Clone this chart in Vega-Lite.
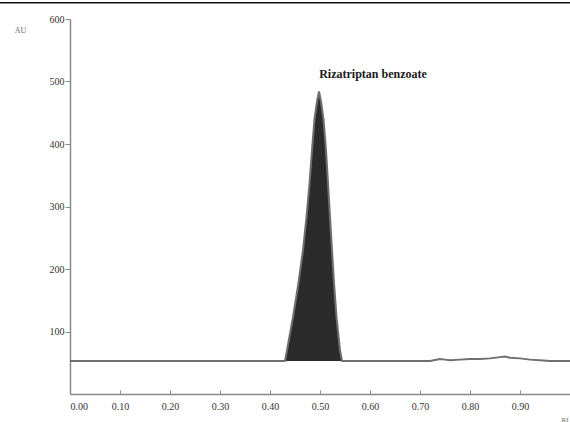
{
  "$schema": "https://vega.github.io/schema/vega-lite/v6.json",
  "width": 500,
  "height": 375,
  "autosize": {"type": "none"},
  "padding": {"left": 70, "top": 19, "right": 0, "bottom": 28},
  "background": "white",
  "config": {
    "view": {"stroke": null},
    "font": "Liberation Serif",
    "axis": {"labelFont": "Liberation Serif", "titleFont": "Liberation Serif", "domainColor": "#8a8a8a", "tickColor": "#8a8a8a", "labelColor": "#333333", "titleColor": "#666666", "grid": false}
  },
  "datasets": {
    "trace": [
      {"rf": 0.0, "au": 53}, {"rf": 0.1, "au": 53}, {"rf": 0.2, "au": 53}, {"rf": 0.3, "au": 53}, {"rf": 0.4, "au": 53},
      {"rf": 0.43, "au": 53}, {"rf": 0.434, "au": 70}, {"rf": 0.446, "au": 123}, {"rf": 0.457, "au": 178},
      {"rf": 0.466, "au": 230}, {"rf": 0.473, "au": 283}, {"rf": 0.479, "au": 337}, {"rf": 0.484, "au": 390},
      {"rf": 0.489, "au": 440}, {"rf": 0.494, "au": 468}, {"rf": 0.498, "au": 484}, {"rf": 0.502, "au": 468},
      {"rf": 0.507, "au": 440}, {"rf": 0.512, "au": 390}, {"rf": 0.516, "au": 337}, {"rf": 0.52, "au": 283},
      {"rf": 0.524, "au": 230}, {"rf": 0.528, "au": 178}, {"rf": 0.533, "au": 123}, {"rf": 0.54, "au": 70},
      {"rf": 0.544, "au": 53}, {"rf": 0.6, "au": 53}, {"rf": 0.7, "au": 53}, {"rf": 0.72, "au": 53},
      {"rf": 0.74, "au": 56}, {"rf": 0.75, "au": 55}, {"rf": 0.76, "au": 54}, {"rf": 0.78, "au": 55},
      {"rf": 0.8, "au": 56}, {"rf": 0.82, "au": 56}, {"rf": 0.84, "au": 57}, {"rf": 0.86, "au": 59},
      {"rf": 0.87, "au": 60}, {"rf": 0.88, "au": 58}, {"rf": 0.9, "au": 57}, {"rf": 0.92, "au": 55},
      {"rf": 0.94, "au": 54}, {"rf": 0.96, "au": 53}, {"rf": 1.0, "au": 53}
    ],
    "labels": [{"rf": 0.606, "au": 512, "text": "Rizatriptan benzoate"}]
  },
  "layer": [
    {
      "data": {"name": "trace"},
      "transform": [{"filter": "datum.rf >= 0.43 && datum.rf <= 0.544"}],
      "mark": {"type": "area", "color": "#2b2b2b", "line": false},
      "encoding": {
        "x": {"field": "rf", "type": "quantitative", "scale": {"domain": [0, 1], "nice": false},
          "axis": {"values": [0, 0.1, 0.2, 0.3, 0.4, 0.5, 0.6, 0.7, 0.8, 0.9], "format": ".2f", "title": "Rf", "titleFontSize": 7, "titleFontWeight": "normal", "titleX": 491, "titleY": 21, "titleAlign": "left", "labelFontSize": 10, "tickSize": -4, "labelPadding": 11, "domainWidth": 1.5}},
        "y": {"field": "au", "type": "quantitative", "scale": {"domain": [0, 600], "nice": false},
          "axis": {"values": [100, 200, 300, 400, 500, 600], "title": "AU", "titleAngle": 0, "titleFontSize": 8, "titleFontWeight": "normal", "titleX": -50, "titleY": 15, "titleAlign": "center", "labelFontSize": 10, "tickSize": 5, "labelPadding": 1, "domainWidth": 1.5}},
        "y2": {"datum": 53}
      }
    },
    {
      "data": {"name": "trace"},
      "mark": {"type": "line", "color": "#6f6f6f", "strokeWidth": 2},
      "encoding": {
        "x": {"field": "rf", "type": "quantitative"},
        "y": {"field": "au", "type": "quantitative"}
      }
    },
    {
      "data": {"name": "labels"},
      "mark": {"type": "text", "font": "Liberation Serif", "fontSize": 12, "fontWeight": "bold", "color": "#1a1a1a", "align": "center", "baseline": "middle"},
      "encoding": {
        "x": {"field": "rf", "type": "quantitative"},
        "y": {"field": "au", "type": "quantitative"},
        "text": {"field": "text"}
      }
    },
    {
      "data": {"values": [{}]},
      "mark": {"type": "rule", "color": "#111111", "strokeWidth": 1.5, "clip": false},
      "encoding": {
        "x": {"datum": -0.14},
        "x2": {"datum": 1.0},
        "y": {"datum": 626}
      }
    }
  ]
}
